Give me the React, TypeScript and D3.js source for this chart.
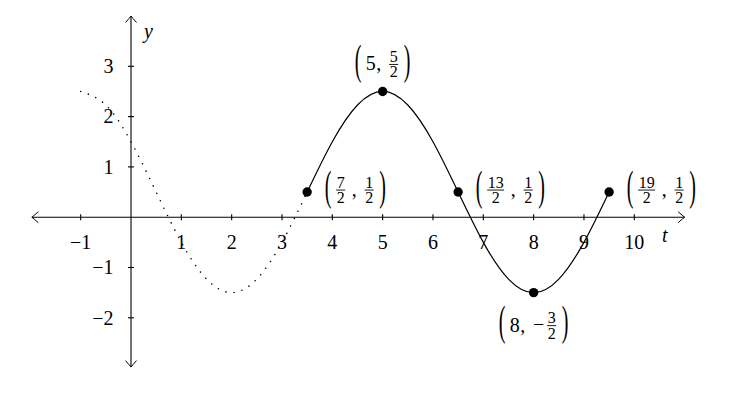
import React from "react";
import * as d3 from "d3";

// ---- data ----
const dottedT = [-1, -0.5, 0, 0.5, 1, 1.5, 2, 2.5, 3, 3.5];
const dottedY = [2.5, 2.23, 1.5, 0.5, -0.5, -1.23, -1.5, -1.23, -0.5, 0.5];
const solidT = [3.5, 4, 4.5, 5, 5.5, 6, 6.5, 7, 7.5, 8, 8.5, 9, 9.5];
const solidY = [0.5, 1.5, 2.23, 2.5, 2.23, 1.5, 0.5, -0.5, -1.23, -1.5, -1.23, -0.5, 0.5];

const markT = [3.5, 5, 6.5, 8, 9.5];
const markY = [0.5, 2.5, 0.5, -1.5, 0.5];
const markXText = ["7/2", "5", "13/2", "8", "19/2"];
const markYText = ["1/2", "5/2", "1/2", "-3/2", "1/2"];
const markPlace = ["right", "above", "right", "below", "right"];

const xTicks = [-1, 1, 2, 3, 4, 5, 6, 7, 8, 9, 10];
const yTicks = [-2, -1, 1, 2, 3];
const xAxisRange = [-1.97, 11.0];
const yAxisRange = [-2.98, 4.0];

const W = 733;
const H = 404;
const FONT = "'Liberation Serif', 'Times New Roman', serif";
const FRAC_FS = 16;

const x = d3.scaleLinear().domain([0, 10]).range([131, 634.3]);
const y = d3.scaleLinear().domain([0, 3]).range([217.2, 66.3]);

type Piece = { kind: "open" | "close" | "text" | "frac" | "minus" | "comma"; text?: string; num?: string; den?: string; w: number };

function valuePieces(s: string): Piece[] {
  if (s.startsWith("-")) return [{ kind: "minus", w: 12 }, ...valuePieces(s.slice(1))];
  if (s.includes("/")) {
    const [num, den] = s.split("/");
    return [{ kind: "frac", num, den, w: 8 * Math.max(num.length, den.length) + 2 }];
  }
  return [{ kind: "text", text: s, w: 10 * s.length }];
}

function gapBetween(prev: Piece, cur: Piece): number {
  if (prev.kind === "open") return 4;
  if (cur.kind === "comma") return prev.kind === "frac" ? 6.5 : 1;
  if (prev.kind === "comma") return 8;
  if (prev.kind === "minus") return 2;
  if (cur.kind === "close") return prev.kind === "frac" ? 5 : 4;
  return 2;
}

function Label({ px, py, xs, ys, place }: { px: number; py: number; xs: string; ys: string; place: string }) {
  const pieces: Piece[] = [
    { kind: "open", w: 7 },
    ...valuePieces(xs),
    { kind: "comma", w: 4 },
    ...valuePieces(ys),
    { kind: "close", w: 7 },
  ];
  const lefts: number[] = [];
  let cur = 0;
  pieces.forEach((p, i) => {
    if (i > 0) cur += gapBetween(pieces[i - 1], p);
    lefts.push(cur);
    cur += p.w;
  });
  const total = cur;
  let L: number;
  let bar: number;
  if (place === "right") {
    L = px + 17.5;
    bar = py - 2;
  } else if (place === "above") {
    L = px - total / 2;
    bar = py - 27;
  } else {
    L = px - total / 2;
    bar = py + 33;
  }
  const parenScale = 2.11;
  const parenBase = bar - 1 + 10.5;
  return (
    <g fontFamily={FONT} fill="#000">
      {pieces.map((p, i) => {
        const l = L + lefts[i];
        const c = l + p.w / 2;
        switch (p.kind) {
          case "open":
          case "close":
            return (
              <text key={i} transform={`translate(${c},${parenBase}) scale(1,${parenScale})`} fontSize={20} textAnchor="middle">
                {p.kind === "open" ? "(" : ")"}
              </text>
            );
          case "text":
            return (
              <text key={i} x={c} y={bar + 6} fontSize={20} textAnchor="middle">
                {p.text}
              </text>
            );
          case "comma":
            return (
              <text key={i} x={c} y={bar + 6} fontSize={20} textAnchor="middle">
                ,
              </text>
            );
          case "minus":
            return (
              <text key={i} x={c} y={bar + 5.5} fontSize={20} textAnchor="middle">
                {"\u2212"}
              </text>
            );
          case "frac":
            return (
              <g key={i}>
                <text x={c} y={bar - 2.5} fontSize={FRAC_FS} textAnchor="middle">
                  {p.num}
                </text>
                <line x1={l + 0.5} x2={l + p.w - 0.5} y1={bar} y2={bar} stroke="#000" strokeWidth={0.9} />
                <text x={c} y={bar + 13} fontSize={FRAC_FS} textAnchor="middle">
                  {p.den}
                </text>
              </g>
            );
        }
        return null;
      })}
    </g>
  );
}

function arrowPath(tipX: number, tipY: number, dir: "right" | "left" | "up" | "down") {
  const pts = [
    [-6.5, -5.5],
    [-1.5, -1],
    [0, 0],
    [-1.5, 1],
    [-6.5, 5.5],
  ];
  const rot = { right: 0, left: Math.PI, up: -Math.PI / 2, down: Math.PI / 2 }[dir];
  const tr = (p: number[]) => {
    const cx = Math.cos(rot), sn = Math.sin(rot);
    return [tipX + p[0] * cx - p[1] * sn, tipY + p[0] * sn + p[1] * cx];
  };
  const a = pts.map(tr);
  return `M${a[0][0]},${a[0][1]} Q${a[1][0]},${a[1][1]} ${a[2][0]},${a[2][1]} Q${a[3][0]},${a[3][1]} ${a[4][0]},${a[4][1]}`;
}

export default function App() {
  const line = d3
    .line<[number, number]>()
    .x((d) => x(d[0]))
    .y((d) => y(d[1]))
    .curve(d3.curveNatural);
  const dotted = line(dottedT.map((t, i) => [t, dottedY[i]] as [number, number])) || "";
  const solid = line(solidT.map((t, i) => [t, solidY[i]] as [number, number])) || "";

  const x0 = x(xAxisRange[0]);
  const x1 = x(xAxisRange[1]);
  const yTop = y(yAxisRange[1]);
  const yBot = y(yAxisRange[0]);
  const ax = x(0);
  const ay = y(0);

  return (
    <svg width={W} height={H} style={{ position: "absolute", left: 0, top: 0, background: "#fff" }}>
      <g stroke="#000" strokeWidth={1.1} fill="none">
        <line x1={x0} x2={x1} y1={ay} y2={ay} />
        <line x1={ax} x2={ax} y1={yTop} y2={yBot} />
        <path d={arrowPath(x1, ay, "right")} strokeWidth={1} />
        <path d={arrowPath(x0, ay, "left")} strokeWidth={1} />
        <path d={arrowPath(ax, yTop, "up")} strokeWidth={1} />
        <path d={arrowPath(ax, yBot, "down")} strokeWidth={1} />
        {xTicks.map((t) => (
          <line key={"xt" + t} x1={x(t)} x2={x(t)} y1={ay - 3} y2={ay + 3} />
        ))}
        {yTicks.map((v) => (
          <line key={"yt" + v} x1={ax - 3} x2={ax + 3} y1={y(v)} y2={y(v)} />
        ))}
      </g>
      <g fontFamily={FONT} fontSize={20} fill="#000">
        {xTicks.map((t) => (
          <text key={"xl" + t} x={x(t)} y={ay + 31.4} textAnchor="middle">
            {t < 0 ? "\u2212" + Math.abs(t) : String(t)}
          </text>
        ))}
        {yTicks.map((v) => (
          <text key={"yl" + v} x={ax - 17.5} y={y(v) + 6.8} textAnchor="end">
            {v < 0 ? "\u2212" + Math.abs(v) : String(v)}
          </text>
        ))}
        <text x={662} y={ay + 24.5} fontStyle="italic">
          t
        </text>
        <text x={144} y={37.5} fontStyle="italic">
          y
        </text>
      </g>
      <path d={dotted} fill="none" stroke="#000" strokeWidth={1.6} strokeLinecap="round" strokeDasharray="0 8.2" />
      <path d={solid} fill="none" stroke="#000" strokeWidth={1.2} />
      {markT.map((t, i) => (
        <circle key={"m" + i} cx={x(t)} cy={y(markY[i])} r={4.7} fill="#000" />
      ))}
      {markT.map((t, i) => (
        <Label key={"l" + i} px={x(t)} py={y(markY[i])} xs={markXText[i]} ys={markYText[i]} place={markPlace[i]} />
      ))}
    </svg>
  );
}
